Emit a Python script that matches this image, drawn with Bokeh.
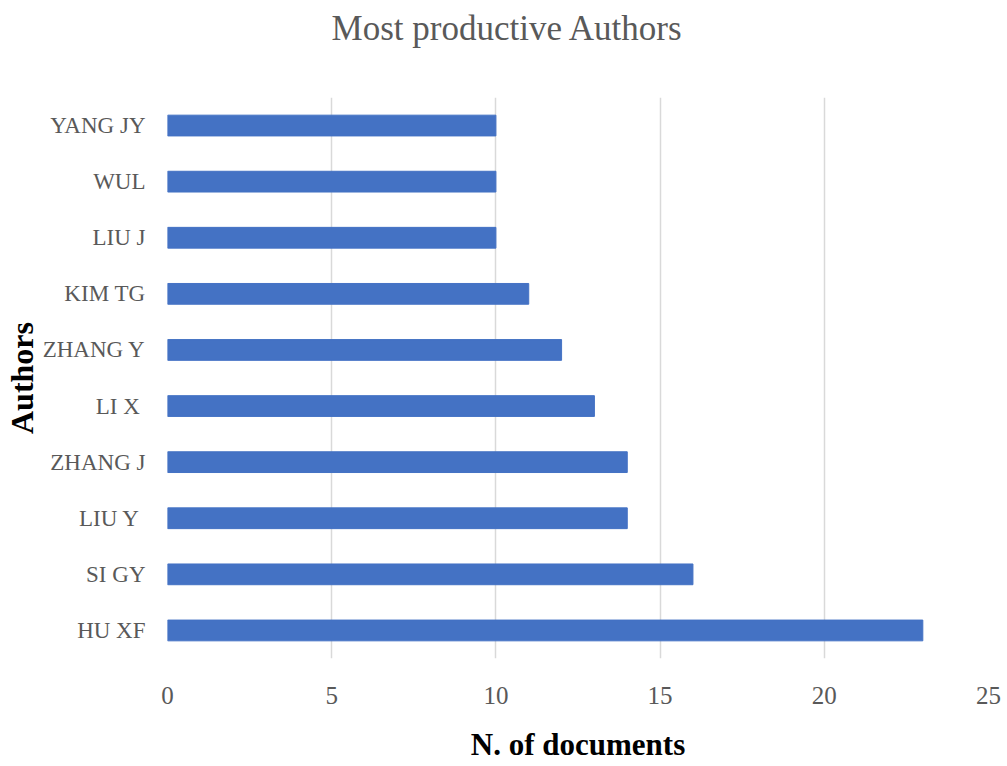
from bokeh.plotting import figure
from bokeh.models import Range1d, FactorRange, SingleIntervalTicker
from bokeh.layouts import column
from bokeh.core.properties import value
from bokeh.embed import file_html
from bokeh.resources import INLINE

# Publication counts per author (top to bottom: YANG JY ... HU XF)
authors = ["HU XF", "SI GY", "LIU Y ", "ZHANG J", "LI X ", "ZHANG Y", "KIM TG", "LIU J", "WUL", "YANG JY"]
documents = [23, 16, 14, 14, 13, 12, 11, 10, 10, 10]
x_max = 25
title_text = ["Most productive Authors"]

SERIF = "Liberation Serif"
GREY_TEXT = "#595959"

W = 1007
LEFT, RIGHT = 166, 20
FRAME_W = W - LEFT - RIGHT
TITLE_H = 60
TOP_GAP = 97 - TITLE_H
FRAME_H = 561
BOTTOM = 108

# --- title strip: ranges in canvas pixels (y grows downward) ------------
head = figure(
    title=None,
    frame_width=FRAME_W, frame_height=TITLE_H,
    x_range=Range1d(LEFT, W - RIGHT), y_range=Range1d(TITLE_H, 0),
    x_axis_type=None, y_axis_type=None, output_backend="svg", toolbar_location=None,
    min_border_left=LEFT, min_border_right=RIGHT, min_border_top=0, min_border_bottom=0,
)
head.outline_line_color = None
head.grid.visible = False
head.text(
    x=[506], y=[28], text=title_text,
    text_font=value(SERIF), text_font_size="35px", text_color=GREY_TEXT,
    text_align="center", text_baseline="alphabetic",
)

# --- bar chart -----------------------------------------------------------
p = figure(
    frame_width=FRAME_W, frame_height=FRAME_H,
    y_range=FactorRange(factors=authors, range_padding=0),
    x_range=Range1d(0, x_max),
    output_backend="svg", toolbar_location=None,
    min_border_left=LEFT, min_border_right=RIGHT,
    min_border_top=TOP_GAP, min_border_bottom=BOTTOM,
)
p.hbar(y=authors, right=documents, left=0, height=0.37, color="#4472c4")

p.outline_line_color = None
p.ygrid.grid_line_color = None
p.xgrid.grid_line_color = "#d9d9d9"
p.xgrid.grid_line_width = 1.5

p.xaxis.ticker = SingleIntervalTicker(interval=5)
p.xaxis.axis_line_color = None
p.xaxis.major_tick_line_color = None
p.xaxis.minor_tick_line_color = None
p.xaxis.major_label_standoff = 22
p.xaxis.major_label_text_font = SERIF
p.xaxis.major_label_text_font_size = "25px"
p.xaxis.major_label_text_color = GREY_TEXT
p.xaxis.axis_label = "N. of documents"
p.xaxis.axis_label_text_font = SERIF
p.xaxis.axis_label_text_font_style = "bold"
p.xaxis.axis_label_text_font_size = "31px"
p.xaxis.axis_label_text_color = "black"
p.xaxis.axis_label_standoff = 20

p.yaxis.axis_line_color = None
p.yaxis.major_tick_line_color = None
p.yaxis.minor_tick_line_color = None
p.yaxis.major_label_standoff = 16
p.yaxis.major_label_text_font = SERIF
p.yaxis.major_label_text_font_size = "23px"
p.yaxis.major_label_text_color = GREY_TEXT
p.yaxis.axis_label = "Authors"
p.yaxis.axis_label_text_font = SERIF
p.yaxis.axis_label_text_font_style = "bold"
p.yaxis.axis_label_text_font_size = "32px"
p.yaxis.axis_label_text_color = "black"
p.yaxis.axis_label_standoff = 0

open("out.html", "w").write(file_html(column(head, p, spacing=0), INLINE))
